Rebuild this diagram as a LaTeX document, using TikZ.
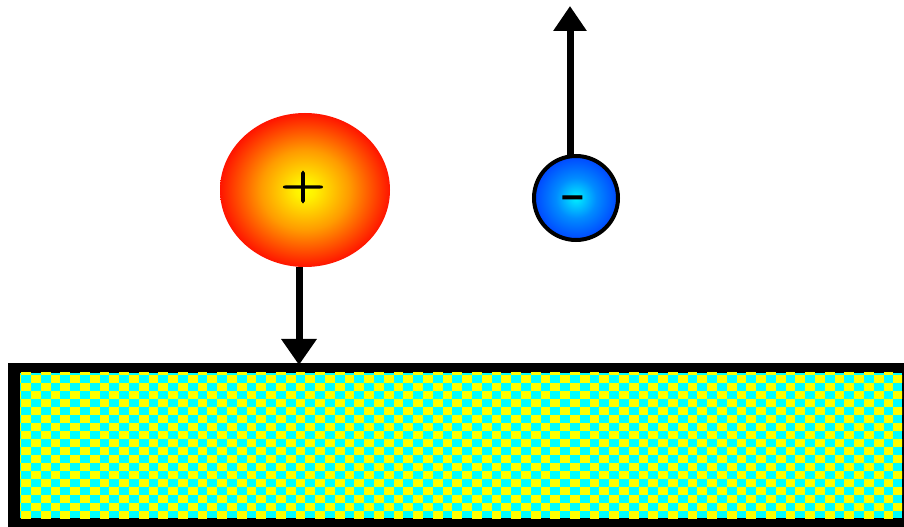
\documentclass[tikz,border=0pt]{standalone}
\usepackage{fontspec}
\newfontfamily\signfont[Extension=.otf, FakeBold=2.5]{lmroman10-regular}
\usetikzlibrary{arrows.meta}
\definecolor{ckyellow}{RGB}{255,255,0}
\definecolor{ckcyan}{RGB}{0,255,255}
\definecolor{pcore}{RGB}{255,255,0}
\definecolor{pcore2}{RGB}{255,240,0}
\definecolor{pmid}{RGB}{255,155,0}
\definecolor{pedge}{RGB}{255,20,0}
\definecolor{ncore}{RGB}{0,240,255}
\definecolor{nmid}{RGB}{0,140,255}
\definecolor{nedge}{RGB}{0,70,255}
\pgfdeclareradialshading{posion}{\pgfpoint{0bp}{0bp}}{%
  color(0bp)=(pcore);
  color(3bp)=(pcore2);
  color(13bp)=(pmid);
  color(25bp)=(pedge);
  color(50bp)=(pedge)}
\pgfdeclareradialshading{negion}{\pgfpoint{0bp}{0bp}}{%
  color(0bp)=(ncore);
  color(12bp)=(nmid);
  color(25bp)=(nedge);
  color(50bp)=(nedge)}
\tikzset{
  forcearrow/.style={line width=7*0.02cm, -{Triangle[width=34*0.02cm,length=26*0.02cm]}},
  chargesign/.style={inner sep=0pt, font=\signfont\fontsize{33}{33}\selectfont},
}
\begin{document}
\begin{tikzpicture}[x=0.02cm, y=-0.02cm]
\useasboundingbox (0,0) rectangle (904,527);
% plate frame
\fill[black] (8,363) rectangle (904,527);
\fill[ckcyan] (20,373) rectangle (902,518);
\begin{scope}
\clip (20,373) rectangle (902,518);
\foreach \i in {0,...,91} {
  \foreach \j in {-1,...,18} {
    \pgfmathtruncatemacro{\cpar}{mod(\i+\j+100,2)}
    \ifnum\cpar=0
      \fill[ckyellow] ({11.3+9.8*\i},{374.7+8*\j}) rectangle ({21.1+9.8*\i},{382.7+8*\j});
    \fi
  }
}
\end{scope}
% positive ion
\shade[shading=posion] (305,190) ellipse [x radius=85, y radius=77];
\node[chargesign, yscale=0.8] (plus) at (303,187) {+};
\coordinate (pbot) at (299,267);
\coordinate (ptop) at (299,365);
\draw[forcearrow] (pbot) -- (ptop);
% negative ion
\shade[shading=negion, draw=black, line width=4*0.02cm] (576,198) circle [radius=42];
\node[chargesign, font=\signfont\fontsize{28}{28}\selectfont, xscale=1.4, anchor=base] (minus) at (574,208) {-};
\coordinate (ntop) at (570,156);
\coordinate (ntip) at (570,6);
\draw[forcearrow, -{Triangle[width=32*0.02cm,length=25*0.02cm]}] (ntop) -- (ntip);
\end{tikzpicture}
\end{document}
